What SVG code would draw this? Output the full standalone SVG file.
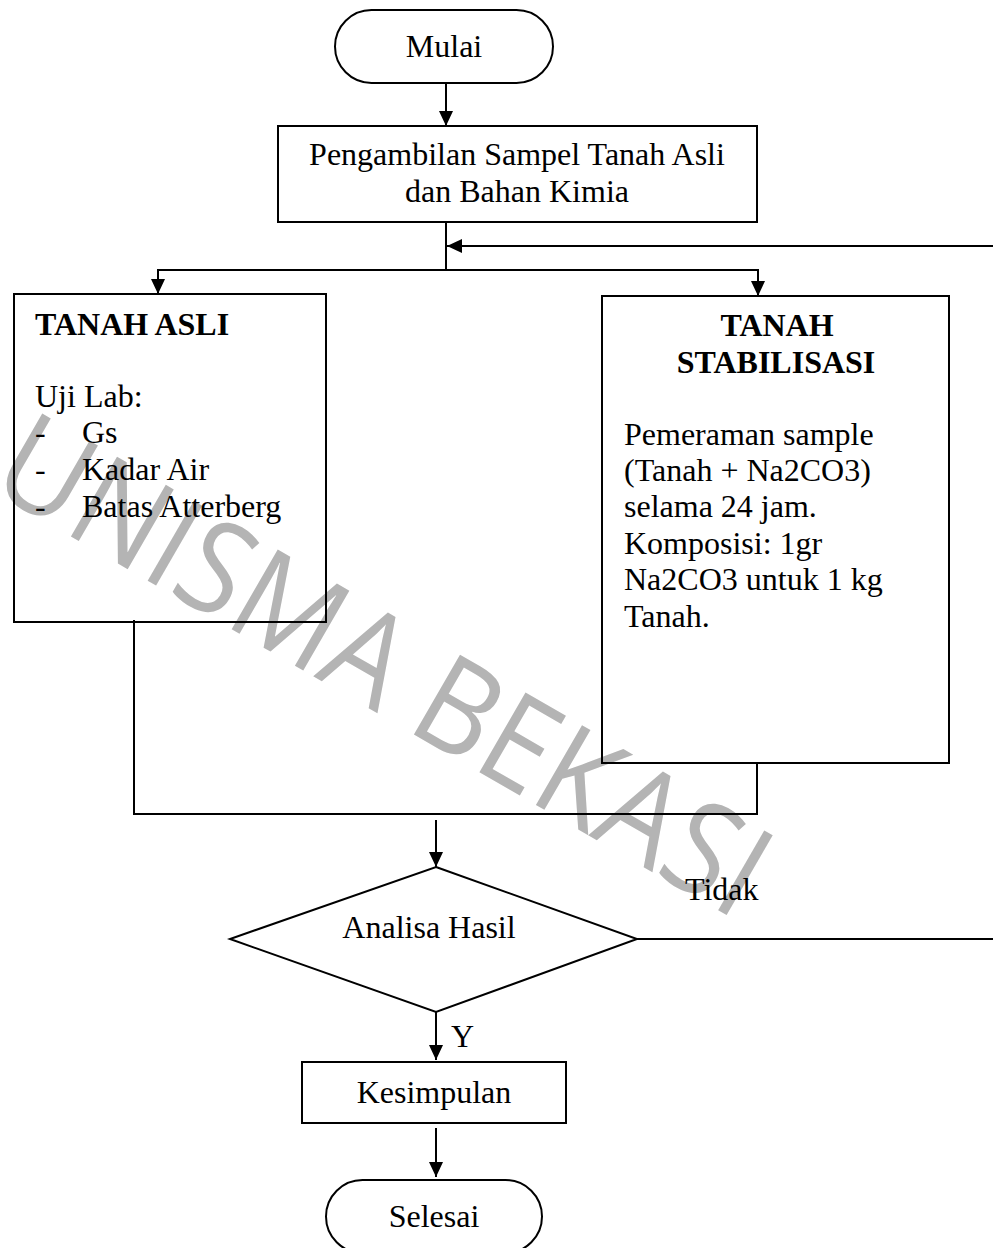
<svg xmlns="http://www.w3.org/2000/svg" width="993" height="1248" viewBox="0 0 993 1248">
<defs>
<marker id="arr" markerUnits="userSpaceOnUse" markerWidth="16" markerHeight="14" refX="15" refY="7" orient="auto">
<path d="M0,0 L15,7 L0,14 z" fill="#000"/>
</marker>
<style>
.t{font-family:"Liberation Serif","Times New Roman",serif;font-size:32px;fill:#000}
.b{font-weight:bold}
.c{text-anchor:middle}
.s{fill:none;stroke:#000;stroke-width:2}
.wm{font-family:"Open Sans","Liberation Sans",sans-serif;font-weight:400;font-size:129px;fill:#b4b4b4}
</style>
</defs>
<rect width="993" height="1248" fill="#fff"/>
<text class="wm" transform="translate(-13,488) rotate(30) scale(0.91,1)">UNISMA BEKASI</text>
<g id="connectors">
<line class="s" x1="446" y1="83" x2="446" y2="126" marker-end="url(#arr)"/>
<line class="s" x1="446" y1="222" x2="446" y2="270"/>
<line class="s" x1="993" y1="246" x2="447" y2="246" marker-end="url(#arr)"/>
<line class="s" x1="158" y1="270" x2="758" y2="270"/>
<line class="s" x1="158" y1="269" x2="158" y2="294" marker-end="url(#arr)"/>
<line class="s" x1="758" y1="269" x2="758" y2="296" marker-end="url(#arr)"/>
<polyline class="s" points="134,620 134,814 757,814 757,763"/>
<line class="s" x1="436" y1="820" x2="436" y2="867" marker-end="url(#arr)"/>
<line class="s" x1="637" y1="939" x2="993" y2="939"/>
<text class="t" x="685" y="900">Tidak</text>
<line class="s" x1="436" y1="1012" x2="436" y2="1060" marker-end="url(#arr)"/>
<text class="t" x="451" y="1047">Y</text>
<line class="s" x1="436" y1="1128" x2="436" y2="1177" marker-end="url(#arr)"/>
</g>
<g id="mulai">
<rect class="s" x="335" y="10" width="218" height="73" rx="36.5"/>
<text class="t c" x="444" y="57">Mulai</text>
</g>
<g id="pengambilan">
<rect class="s" x="278" y="126" width="479" height="96"/>
<text class="t c" x="517" y="165">Pengambilan Sampel Tanah Asli</text>
<text class="t c" x="517" y="202">dan Bahan Kimia</text>
</g>
<g id="tanah-asli">
<rect class="s" x="14" y="294" width="312" height="328"/>
<text class="t b" x="35" y="335">TANAH ASLI</text>
<text class="t" x="35" y="407">Uji Lab:</text>
<text class="t" x="35" y="443">-</text><text class="t" x="82" y="443">Gs</text>
<text class="t" x="35" y="480">-</text><text class="t" x="82" y="480">Kadar Air</text>
<text class="t" x="35" y="517">-</text><text class="t" x="82" y="517">Batas Atterberg</text>
</g>
<g id="tanah-stabilisasi">
<rect class="s" x="602" y="296" width="347" height="467"/>
<text class="t b c" x="777" y="336">TANAH</text>
<text class="t b c" x="776" y="373">STABILISASI</text>
<text class="t" x="624" y="445">Pemeraman sample</text>
<text class="t" x="624" y="481">(Tanah + Na2CO3)</text>
<text class="t" x="624" y="517">selama 24 jam.</text>
<text class="t" x="624" y="554">Komposisi: 1gr</text>
<text class="t" x="624" y="590">Na2CO3 untuk 1 kg</text>
<text class="t" x="624" y="627">Tanah.</text>
</g>
<g id="analisa">
<polygon class="s" points="436,867 637,939 436,1012 230,939"/>
<text class="t c" x="429" y="938">Analisa Hasil</text>
</g>
<g id="kesimpulan">
<rect class="s" x="302" y="1062" width="264" height="61"/>
<text class="t c" x="434" y="1103">Kesimpulan</text>
</g>
<g id="selesai">
<rect class="s" x="326" y="1180" width="216" height="73" rx="36.5"/>
<text class="t c" x="434" y="1227">Selesai</text>
</g>
</svg>
